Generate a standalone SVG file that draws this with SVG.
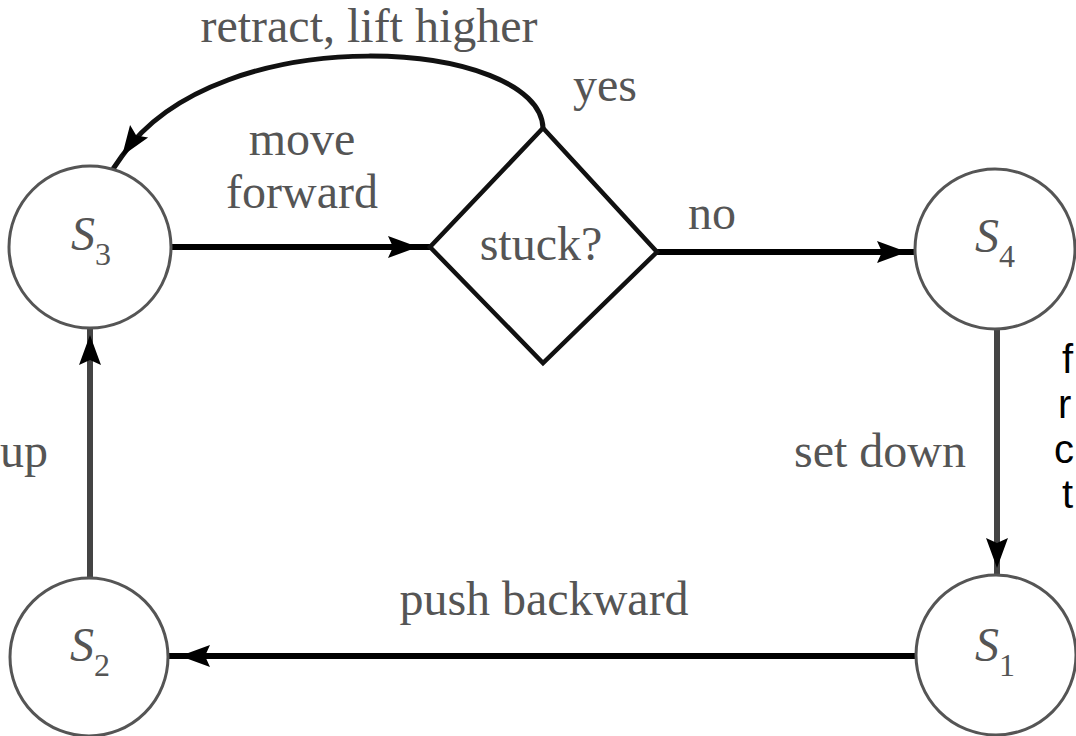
<svg xmlns="http://www.w3.org/2000/svg" width="1076" height="736" viewBox="0 0 1076 736">
  <style>
    .state { fill: #fff; stroke: #555; stroke-width: 3; }
    .decision { fill: #fff; stroke: #111; stroke-width: 4.5; stroke-linejoin: miter; }
    .lbl { font-family: "Liberation Serif", "Times New Roman", serif; font-size: 48px; fill: #555; }
    .sym { font-family: "Liberation Serif", "Times New Roman", serif; font-size: 48px; fill: #555; }
    .sym .s { font-style: italic; }
    .sym .sub { font-size: 32px; }
    .edge { fill: none; stroke: #000; stroke-width: 6; marker-mid: url(#arrow); }
    .edge.v { stroke: #444; }
    .edge.curve { stroke: #111; stroke-width: 5; }
    .side { font-family: "Liberation Sans", Arial, sans-serif; font-size: 40px; fill: #000; }
  </style>
  <defs>
    <marker id="arrow" viewBox="-31 -12 32 24" refX="0" refY="0" markerWidth="32" markerHeight="24" markerUnits="userSpaceOnUse" orient="auto">
      <path d="M0,0 L-30,-11 L-25,0 L-30,11 Z" fill="#000"/>
    </marker>
  </defs>

  <!-- connectors: each path has one interior vertex where the arrowhead sits -->
  <g id="connectors">
    <path id="e-s3-stuck" class="edge" d="M170,247 H418 H430"/>
    <path id="e-stuck-s4" class="edge" d="M657,252 H907 H915"/>
    <path id="e-s4-s1" class="edge v" d="M997,330 V568 V575"/>
    <path id="e-s1-s2" class="edge" d="M916,656 H180 H168"/>
    <path id="e-s2-s3" class="edge v" d="M90,578 V335 V328"/>
    <path id="e-stuck-s3" class="edge curve" d="M543,128 C540,40 220,15 122,156 L113,169"/>
  </g>

  <!-- edge labels -->
  <g id="edge-labels">
    <text class="lbl" x="369" y="42" text-anchor="middle">retract, lift higher</text>
    <text class="lbl" x="605" y="101" text-anchor="middle">yes</text>
    <text class="lbl" x="302" y="155" text-anchor="middle">move</text>
    <text class="lbl" x="302" y="208" text-anchor="middle">forward</text>
    <text class="lbl" x="712" y="229" text-anchor="middle">no</text>
    <text class="lbl" x="880" y="467" text-anchor="middle">set down</text>
    <text class="lbl" x="0" y="467">up</text>
    <text class="lbl" x="544" y="615" text-anchor="middle">push backward</text>
  </g>

  <g id="s3">
    <circle class="state" cx="90" cy="247" r="81"/>
    <text class="sym" x="71" y="250"><tspan class="s">S</tspan><tspan class="sub" dy="15">3</tspan></text>
  </g>

  <g id="stuck">
    <polygon class="decision" points="543,128 657,252 543,363 430,247"/>
    <text class="lbl" x="541" y="260" text-anchor="middle">stuck?</text>
  </g>

  <g id="s4">
    <circle class="state" cx="995" cy="249" r="80"/>
    <text class="sym" x="975" y="252"><tspan class="s">S</tspan><tspan class="sub" dy="15">4</tspan></text>
  </g>

  <g id="s1">
    <circle class="state" cx="996" cy="655" r="80"/>
    <text class="sym" x="975" y="661"><tspan class="s">S</tspan><tspan class="sub" dy="15">1</tspan></text>
  </g>

  <g id="s2">
    <circle class="state" cx="89" cy="657" r="79"/>
    <text class="sym" x="70" y="661"><tspan class="s">S</tspan><tspan class="sub" dy="15">2</tspan></text>
  </g>

  <!-- column of letters at the right edge -->
  <g id="side-text">
    <text class="side" x="1062" y="373">f</text>
    <text class="side" x="1058" y="418">r</text>
    <text class="side" x="1054" y="463">c</text>
    <text class="side" x="1062" y="508">t</text>
  </g>
</svg>
